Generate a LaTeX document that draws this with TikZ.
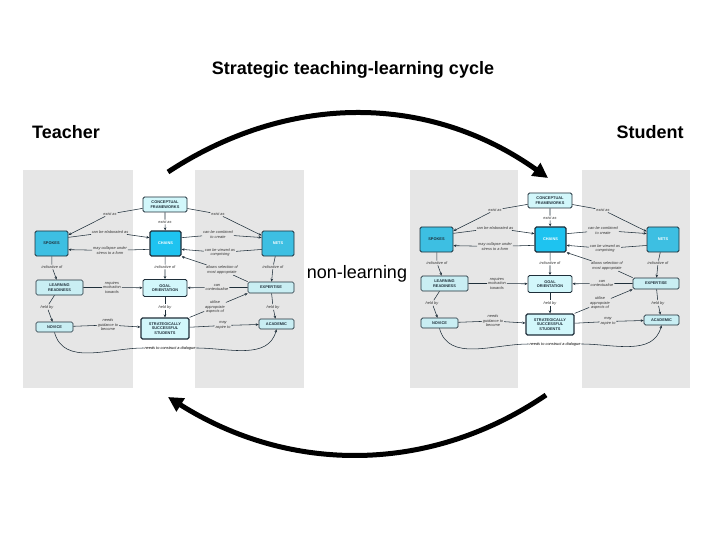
\documentclass[tikz,border=0pt]{standalone}
\usepackage{fontspec}
\setmainfont{Liberation Sans}
\usetikzlibrary{arrows.meta}
\definecolor{panel}{HTML}{E6E6E6}
\definecolor{bright}{HTML}{1EC3F0}
\definecolor{midb}{HTML}{3DBFE2}
\definecolor{pale}{HTML}{C9EEF3}
\definecolor{paleb}{HTML}{D2F7FB}
\definecolor{edge}{HTML}{1F2F3A}
\definecolor{lbl}{HTML}{333333}
\tikzset{
  cbox/.style args={#1/#2/#3/#4}{draw=edge, fill=#3, line width=#4, rounded corners=1.5pt,
    minimum width=#1pt, minimum height=#2pt, inner sep=0pt, align=center,
    font=\fontsize{3.9}{4.4}\selectfont\bfseries, text=edge},
  lab/.style={inner sep=0.8pt, align=center, text=lbl, font=\fontsize{3.9}{4.6}\selectfont\itshape},
  con/.style={draw=edge, line width=0.55pt},
  cona/.style={con, -{Stealth[length=3pt,width=2.6pt]}},
  big/.style={line width=5pt, -{Triangle[length=15pt,width=15pt]}},
  head/.style={font=\fontsize{18}{21}\selectfont\bfseries},
  cmap/.pic={
    \node[cbox=44/15/paleb/0.8pt] (cf) at (165,204.5) {CONCEPTUAL\\FRAMEWORKS};
    \node[cbox=33/25/midb/0.8pt] (sp) at (51.5,243.5) {SPOKES};
    \node[cbox=31/25/bright/1.1pt, text=white] (ch) at (165.5,243.5) {CHAINS};
    \node[cbox=32/25/midb/0.8pt, text=white] (nt) at (278,243.5) {NETS};
    \node[cbox=47/15/pale/0.7pt] (lr) at (59.5,287.5) {LEARNING\\READINESS};
    \node[cbox=44/17/paleb/0.9pt] (go) at (165,288) {GOAL\\ORIENTATION};
    \node[cbox=46/11/pale/0.7pt] (ex) at (271,287.5) {EXPERTISE};
    \node[cbox=37/10/pale/0.7pt] (nv) at (54.5,327) {NOVICE};
    \node[cbox=48/21/paleb/1.2pt] (ss) at (165,328.5) {STRATEGICALLY\\SUCCESSFUL\\STUDENTS};
    \node[cbox=35/10/pale/0.7pt] (ac) at (276.5,324) {ACADEMIC};
    \node[lab] (la1) at (110,214) {exist as};
    \node[lab] (la2) at (165,222) {exist as};
    \node[lab] (la3) at (218,214) {exist as};
    \node[lab] (la4) at (110,232) {can be elaborated as};
    \node[lab] (la5) at (110,250.5) {may collapse under\\stress to a form};
    \node[lab] (la6) at (218,234.5) {can be combined\\to create};
    \node[lab] (la7) at (220,252.5) {can be viewed as\\comprising};
    \node[lab] (la8) at (222,270) {allows selection of\\most appropriate};
    \node[lab] (la9) at (52,267) {indicative of};
    \node[lab] (la10) at (165,267) {indicative of};
    \node[lab] (la11) at (273,267) {indicative of};
    \node[lab] (la12) at (112,287.5) {requires\\motivation\\towards};
    \node[lab] (la13) at (217,287.5) {can\\contextualise};
    \node[lab] (la14) at (47,307) {held by};
    \node[lab] (la15) at (165,307) {held by};
    \node[lab] (la16) at (273,307) {held by};
    \node[lab] (la17) at (215,307) {utilise\\appropriate\\aspects of};
    \node[lab] (la18) at (108,325) {needs\\guidance to\\become};
    \node[lab] (la19) at (223,325.5) {may\\aspire to};
    \node[lab, text=black] (la20) at (170,348) {needs to construct a dialogue};
    \draw[cona] (cf) -- (la1) -- (sp);
    \draw[cona] (cf) -- (la2) -- (ch);
    \draw[cona] (cf) -- (la3) -- (nt);
    \draw[cona] (sp.20) -- (la4) -- (ch.160);
    \draw[cona] (ch.200) -- (la5) -- (sp.-20);
    \draw[cona] (ch.20) -- (la6) -- (nt.160);
    \draw[cona] (nt.200) -- (la7) -- (ch.-20);
    \draw[cona] (ex.north west) -- (la8) -- (ch.south east);
    \draw[cona] (sp) -- (la9) -- (lr);
    \draw[cona] (ch) -- (la10) -- (go);
    \draw[cona] (nt) -- (la11) -- (ex);
    \draw[cona] (lr) -- (la12) -- (go);
    \draw[cona] (ex) -- (la13) -- (go);
    \draw[cona] (lr) -- (la14) -- (nv);
    \draw[cona] (go) -- (la15) -- (ss);
    \draw[cona] (ex) -- (la16) -- (ac);
    \draw[cona] (ss.north east) -- (la17) -- (ex.south west);
    \draw[cona] (nv) -- (la18) -- (ss);
    \draw[cona] (ss) -- (la19) -- (ac);
    \draw[con] (nv.south) to[out=-75,in=180] (la20.west);
    \draw[cona] (la20.east) to[out=0,in=-105] (ac.south);
  }
}
\begin{document}
\begin{tikzpicture}[x=1pt,y=-1pt]
\useasboundingbox[fill=white] (0,0) rectangle (720,540);
% panels
\fill[panel] (23,170) rectangle (133,388);
\fill[panel] (195,170) rectangle (304,388);
\fill[panel] (410,170) rectangle (518,388);
\fill[panel] (582,170) rectangle (690,388);
\pic (L) at (0,0) {cmap};
\pic (R) at (385,-4) {cmap};
% texts
\node[head] (title) at (353,70) {Strategic teaching-learning cycle};
\node[head] (teacher) at (66,132) {Teacher};
\node[head] (student) at (650,132) {Student};
\node[font=\fontsize{18}{21}\selectfont] (nonl) at (357,274) {non-learning};
% big arrows
\coordinate (t1) at (168,172);
\coordinate (t2) at (548,178);
\coordinate (b1) at (546,395);
\coordinate (b2) at (168,397);
\draw[big] (t1) .. controls (290,92) and (430,94) .. (t2);
\draw[big] (b1) .. controls (430,474) and (290,474) .. (b2);
\end{tikzpicture}
\end{document}
